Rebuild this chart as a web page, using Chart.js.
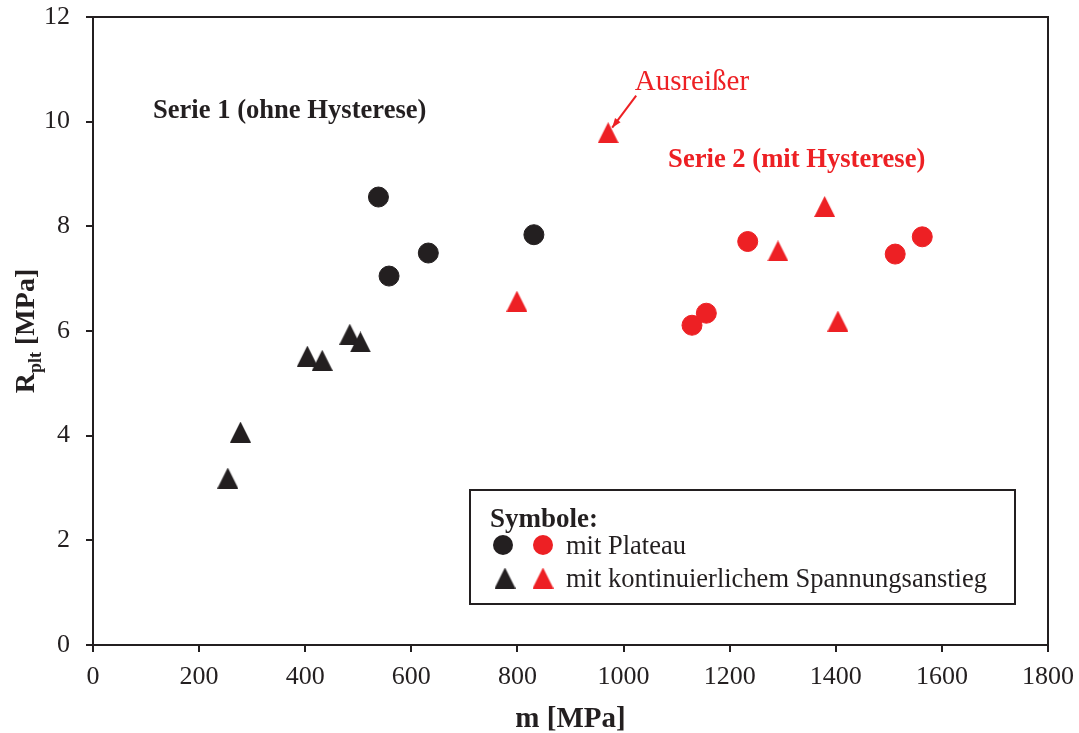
<!DOCTYPE html>
<html><head><meta charset="utf-8">
<script src="https://cdn.jsdelivr.net/npm/chart.js@4.4.0/dist/chart.umd.min.js"></script>
<style>html,body{margin:0;padding:0;background:#fff;overflow:hidden}#wrap{width:1079px;height:733px;position:relative}</style>
</head><body><div id="wrap"><canvas id="c" width="1079" height="733"></canvas></div>
<script>
// ---- data (m [MPa], R_plt [MPa]) ----
const s1PlateauX = [538, 558, 632, 831];
const s1PlateauY = [8.56, 7.05, 7.49, 7.84];
const s1ContX = [254, 278, 404, 432, 484, 504];
const s1ContY = [3.19, 4.07, 5.52, 5.44, 5.94, 5.79];
const s2PlateauX = [1129, 1156, 1234, 1512, 1563];
const s2PlateauY = [6.11, 6.34, 7.71, 7.47, 7.80];
const s2ContX = [799, 971, 1291, 1379, 1404];
const s2ContY = [6.57, 9.79, 7.53, 8.38, 6.19];
const xTicks = [0, 200, 400, 600, 800, 1000, 1200, 1400, 1600, 1800];
const yTicks = [0, 2, 4, 6, 8, 10, 12];
const outlierIndex = 1; // in s2Cont

const BLACK = '#231f20', RED = '#ed2024';
const FONT = "'Liberation Serif', 'Times New Roman', serif";

function pts(xs, ys){ return xs.map((x,i)=>({x:x, y:ys[i]})); }
function makeTri(color){
  const c = document.createElement('canvas'); c.width = 21; c.height = 21;
  const g = c.getContext('2d'); g.fillStyle = color;
  g.beginPath(); g.moveTo(10.5,0); g.lineTo(21,21); g.lineTo(0,21); g.closePath(); g.fill();
  return c;
}
const triBlack = makeTri(BLACK), triRed = makeTri(RED);

const frameAndText = {
  id: 'frameAndText',
  afterDraw(chart){
    const ctx = chart.ctx, a = chart.chartArea;
    const xs = chart.scales.x, ys = chart.scales.y;
    ctx.save();
    // frame
    ctx.strokeStyle = BLACK; ctx.lineWidth = 2;
    ctx.strokeRect(a.left, a.top, a.right - a.left, a.bottom - a.top);
    // annotations
    ctx.textAlign = 'left'; ctx.textBaseline = 'alphabetic';
    ctx.fillStyle = BLACK; ctx.font = 'bold 26.6px ' + FONT;
    ctx.fillText('Serie 1 (ohne Hysterese)', xs.getPixelForValue(113), ys.getPixelForValue(10.07));
    ctx.fillStyle = RED;
    ctx.fillText('Serie 2 (mit Hysterese)', xs.getPixelForValue(1084), ys.getPixelForValue(9.13));
    ctx.font = '29px ' + FONT;
    ctx.fillText('Ausreißer', xs.getPixelForValue(1021), ys.getPixelForValue(10.6));
    // arrow to outlier
    const px = xs.getPixelForValue(s2ContX[outlierIndex]), py = ys.getPixelForValue(s2ContY[outlierIndex]);
    const sx = px + 28, sy = py - 37, tx = px + 4, ty = py - 5;
    ctx.strokeStyle = RED; ctx.lineWidth = 2;
    ctx.beginPath(); ctx.moveTo(sx, sy); ctx.lineTo(tx, ty); ctx.stroke();
    const ang = Math.atan2(ty - sy, tx - sx);
    ctx.beginPath(); ctx.moveTo(tx, ty);
    ctx.lineTo(tx - 10*Math.cos(ang - 0.35), ty - 10*Math.sin(ang - 0.35));
    ctx.lineTo(tx - 10*Math.cos(ang + 0.35), ty - 10*Math.sin(ang + 0.35));
    ctx.closePath(); ctx.fillStyle = RED; ctx.fill();
    // legend box
    const L = 470, T = 490, R = 1015, B = 604;
    ctx.strokeStyle = BLACK; ctx.lineWidth = 2;
    ctx.strokeRect(L, T, R - L, B - T);
    ctx.fillStyle = BLACK; ctx.font = 'bold 27px ' + FONT;
    ctx.fillText('Symbole:', L + 20, T + 37);
    ctx.font = '26.5px ' + FONT;
    ctx.fillText('mit Plateau', L + 96, T + 64);
    ctx.fillText('mit kontinuierlichem Spannungsanstieg', L + 96, T + 97);
    Chart.helpers.drawPoint(ctx, {pointStyle:'circle', radius:10, borderWidth:0}, L + 33, T + 55);
    ctx.fillStyle = RED;
    Chart.helpers.drawPoint(ctx, {pointStyle:'circle', radius:10, borderWidth:0}, L + 73, T + 55);
    ctx.drawImage(triBlack, L + 35 - 10.5, T + 88 - 10.5);
    ctx.drawImage(triRed, L + 73 - 10.5, T + 88 - 10.5);
    // y title with subscript
    ctx.fillStyle = BLACK;
    const fMain = 'bold 28px ' + FONT, fSub = 'bold 18px ' + FONT;
    ctx.font = fMain; const wR = ctx.measureText('R').width, wM = ctx.measureText(' [MPa]').width;
    ctx.font = fSub; const wS = ctx.measureText('plt').width;
    const tot = wR + wS + wM;
    ctx.translate(34, (a.top + a.bottom)/2); ctx.rotate(-Math.PI/2);
    let cx = -tot/2;
    ctx.font = fMain; ctx.fillText('R', cx, 0); cx += wR;
    ctx.font = fSub; ctx.fillText('plt', cx, 7); cx += wS;
    ctx.font = fMain; ctx.fillText(' [MPa]', cx, 0);
    ctx.restore();
  }
};

new Chart(document.getElementById('c'), {
  type: 'scatter',
  data: { datasets: [
    { label: 'Serie 1 mit Plateau', data: pts(s1PlateauX, s1PlateauY), pointStyle: 'circle', pointRadius: 10, backgroundColor: BLACK, borderColor: BLACK, borderWidth: 1 },
    { label: 'Serie 1 kontinuierlich', data: pts(s1ContX, s1ContY), pointStyle: triBlack, pointRadius: 10 },
    { label: 'Serie 2 mit Plateau', data: pts(s2PlateauX, s2PlateauY), pointStyle: 'circle', pointRadius: 10, backgroundColor: RED, borderColor: RED, borderWidth: 1 },
    { label: 'Serie 2 kontinuierlich', data: pts(s2ContX, s2ContY), pointStyle: triRed, pointRadius: 10 }
  ]},
  options: {
    responsive: false, animation: false, devicePixelRatio: 1,
    layout: { padding: { left: 0, top: 17, right: 31, bottom: 0 } },
    plugins: { legend: { display: false }, tooltip: { enabled: false } },
    scales: {
      x: {
        type: 'linear', min: 0, max: 1800,
        afterFit(s){ s.height = 88; s.paddingLeft = 0; s.paddingRight = 0; },
        afterBuildTicks(s){ s.ticks = xTicks.map(v => ({value: v})); },
        grid: { drawOnChartArea: false, drawTicks: true, tickLength: 7, color: BLACK, lineWidth: 2 },
        border: { display: false },
        ticks: { color: BLACK, font: { family: FONT, size: 26 }, padding: 10, maxRotation: 0, callback: v => String(v) },
        title: { display: true, text: 'm [MPa]', color: BLACK, font: { family: FONT, size: 29, weight: 'bold' }, padding: { top: 0, bottom: -4 } }
      },
      y: {
        type: 'linear', min: 0, max: 12,
        afterFit(s){ s.width = 93; s.paddingTop = 0; s.paddingBottom = 0; },
        afterBuildTicks(s){ s.ticks = yTicks.map(v => ({value: v})); },
        grid: { drawOnChartArea: false, drawTicks: true, tickLength: 7, color: BLACK, lineWidth: 2 },
        border: { display: false },
        ticks: { color: BLACK, font: { family: FONT, size: 26 }, padding: 16, callback: v => String(v) }
      }
    }
  },
  plugins: [frameAndText]
});
</script></body></html>
